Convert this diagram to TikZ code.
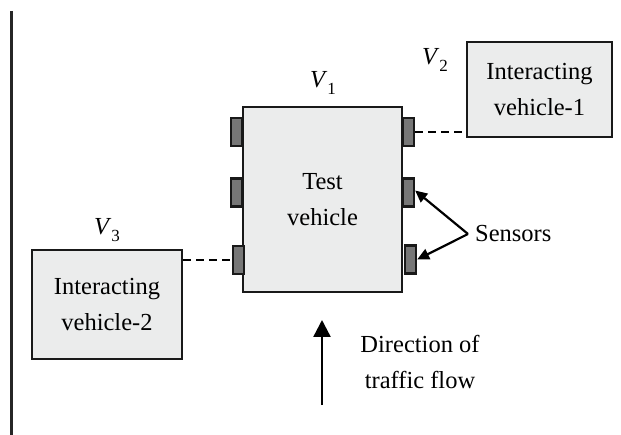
\documentclass[tikz,border=0pt]{standalone}
\usepackage{fontspec}
\setmainfont{Liberation Serif}
\usetikzlibrary{arrows.meta}
\definecolor{boxfill}{HTML}{EBECEC}
\definecolor{sensfill}{HTML}{777777}
\newcommand{\vlab}[1]{\textit{V}\raisebox{-0.28em}{\fontsize{17}{17}\selectfont #1}}
\begin{document}
\begin{tikzpicture}[x=1pt,y=-1pt,
  every node/.style={font=\fontsize{24.5}{36.5}\selectfont},
  vehbox/.style={draw=black!90,line width=2.3pt,fill=boxfill,align=center,inner sep=0pt},
  sensbox/.style={draw=black!90,line width=2.3pt,fill=sensfill,minimum width=11pt,minimum height=28pt,inner sep=0pt},
  link/.style={line width=2pt,dash pattern=on 8pt off 5pt},
  lead/.style={line width=2.2pt,-{Triangle[length=12pt,width=11pt]}},
  flow/.style={line width=2.4pt,-{Triangle[length=17pt,width=17pt]}}
]
\useasboundingbox (0,0) rectangle (621,435);
\draw[line width=2.4pt,black!85] (11.5,11) -- (11.5,435);

\node[vehbox,minimum width=159pt,minimum height=185pt] (tv) at (322.5,199.5) {Test\\vehicle};
\node[vehbox,minimum width=145pt,minimum height=95pt] (iv1) at (539.5,89.5) {Interacting\\vehicle-1};
\node[vehbox,minimum width=150pt,minimum height=109pt] (iv2) at (107,304.5) {Interacting\\vehicle-2};

\node[sensbox] (sL1) at (236.5,132) {};
\node[sensbox] (sL2) at (236.5,192.5) {};
\node[sensbox] (sL3) at (238.5,260) {};
\node[sensbox] (sR1) at (408.5,132) {};
\node[sensbox] (sR2) at (408.5,192.5) {};
\node[sensbox] (sR3) at (410.5,259.5) {};

\node (v1) at (323,83) {\vlab{1}};
\node (v2) at (435,60) {\vlab{2}};
\node (v3) at (107,230) {\vlab{3}};

\draw[link] (sR1.east) -- (sR1.east -| iv1.west);
\draw[link] (sL3.west -| iv2.east) -- (sL3.west);

\node[anchor=west,inner sep=0pt] (sens) at (475,234) {Sensors};
\coordinate (fork) at (468,234);
\draw[lead] (fork) -- ([yshift=2pt]sR2.east);
\draw[lead] (fork) -- (sR3.east);

\coordinate (ftail) at (322,405);
\coordinate (fhead) at (322,320);
\draw[flow] (ftail) -- (fhead);
\node[align=center,inner sep=0pt] (dir) at (420,362) {Direction of\\traffic flow};
\end{tikzpicture}
\end{document}
